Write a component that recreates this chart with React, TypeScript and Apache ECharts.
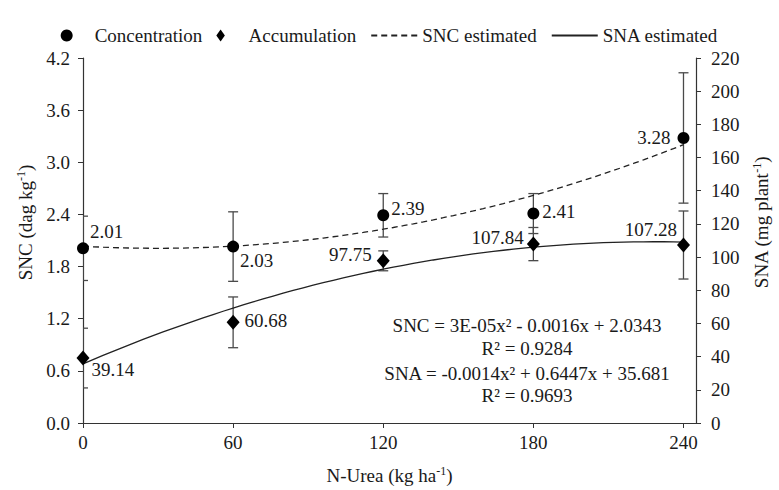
import React, { useEffect, useRef } from "react";
import * as echarts from "echarts";

const nUrea = [0, 60, 120, 180, 240];
const sncValues = [2.01, 2.03, 2.39, 2.41, 3.28];
const sncErrors = [0.37, 0.4, 0.25, 0.23, 0.75];
const snaValues = [39.14, 60.68, 97.75, 107.84, 107.28];
const snaErrors = [18, 15.3, 6, 10, 20.5];
const xTickLabels = ["0", "60", "120", "180", "240"];
const legendNames = ["Concentration", "Accumulation", "SNC estimated", "SNA estimated"];
const equationLines = [
  "SNC = 3E-05x\u00b2 - 0.0016x + 2.0343",
  "R\u00b2 = 0.9284",
  "SNA = -0.0014x\u00b2 + 0.6447x + 35.681",
  "R\u00b2 = 0.9693",
];

// label placement (layout only)
const sncLabelLayout: [string, number, number][] = [
  ["right", 1, -17],
  ["right", 1, 14],
  ["right", 2, -7],
  ["right", 3, -2],
  ["left", -7, 0],
];
const snaLabelLayout: [string, number, number][] = [
  ["right", 2, 11],
  ["right", 5, -2],
  ["left", -5, -6],
  ["left", -3, -7],
  ["left", 0, -16],
];

const FONT = "'Liberation Serif', 'Times New Roman', serif";
const INK = "#1a1a1a";
const FS = 19;

function quadFit(xs: number[], ys: number[]) {
  let s0 = 0, s1 = 0, s2 = 0, s3 = 0, s4 = 0, t0 = 0, t1 = 0, t2 = 0;
  xs.forEach((x, i) => {
    const y = ys[i];
    s0 += 1; s1 += x; s2 += x * x; s3 += x * x * x; s4 += x * x * x * x;
    t0 += y; t1 += x * y; t2 += x * x * y;
  });
  const M = [
    [s4, s3, s2, t2],
    [s3, s2, s1, t1],
    [s2, s1, s0, t0],
  ];
  for (let c = 0; c < 3; c++) {
    for (let r = c + 1; r < 3; r++) {
      const f = M[r][c] / M[c][c];
      for (let k = c; k < 4; k++) M[r][k] -= f * M[c][k];
    }
  }
  const sol = [0, 0, 0];
  for (let r = 2; r >= 0; r--) {
    let v = M[r][3];
    for (let k = r + 1; k < 3; k++) v -= M[r][k] * sol[k];
    sol[r] = v / M[r][r];
  }
  return (x: number) => sol[0] * x * x + sol[1] * x + sol[2];
}

function curve(values: number[]) {
  const f = quadFit(nUrea, values);
  const pts: number[][] = [];
  const x0 = nUrea[0];
  const x1 = nUrea[nUrea.length - 1];
  for (let x = x0; x <= x1 + 1e-9; x += 4) pts.push([x, f(x)]);
  return pts;
}

function errorBars(values: number[], errors: number[], yAxisIndex: number) {
  return {
    type: "custom",
    yAxisIndex,
    clip: true,
    silent: true,
    z: 1,
    data: nUrea.map((x, i) => [x, values[i] - errors[i], values[i] + errors[i]]),
    encode: { x: 0, y: [1, 2] },
    renderItem: (params: any, api: any) => {
      const x = api.value(0);
      const lo = api.coord([x, api.value(1)]);
      const hi = api.coord([x, api.value(2)]);
      const hw = 5;
      const st = { stroke: "#4a4a4a", lineWidth: 1.3 };
      return {
        type: "group",
        children: [
          { type: "line", shape: { x1: lo[0], y1: lo[1], x2: hi[0], y2: hi[1] }, style: st },
          { type: "line", shape: { x1: lo[0] - hw, y1: lo[1], x2: lo[0] + hw, y2: lo[1] }, style: st },
          { type: "line", shape: { x1: hi[0] - hw, y1: hi[1], x2: hi[0] + hw, y2: hi[1] }, style: st },
        ],
      };
    },
  };
}

function pointData(values: number[], layout: [string, number, number][]) {
  return nUrea.map((x, i) => ({
    value: [x, values[i]],
    label: {
      show: true,
      position: layout[i][0],
      distance: 0,
      offset: [layout[i][1], layout[i][2]],
      formatter: values[i].toFixed(2),
    },
  }));
}

const richName = {
  a: { fontFamily: FONT, fontSize: FS, color: INK, lineHeight: 21 },
  s: { fontFamily: FONT, fontSize: 12, color: INK, lineHeight: 21, verticalAlign: "top" },
};

export default function App() {
  const ref = useRef<HTMLDivElement>(null);
  useEffect(() => {
    if (!ref.current) return;
    const chart = echarts.init(ref.current, undefined, { renderer: "svg" });
    const axisLine = { show: true, lineStyle: { color: "#333", width: 1.2 } };
    const axisLabelStyle = { color: INK, fontFamily: FONT, fontSize: FS };
    const option: any = {
      animation: false,
      backgroundColor: "#ffffff",
      textStyle: { fontFamily: FONT },
      grid: { left: 83, right: 76, top: 58, bottom: 58, containLabel: false },
      legend: {
        data: [
          { name: legendNames[0] },
          { name: legendNames[1], icon: "path://M5,0 L10,7 L5,14 L0,7 Z" },
          { name: legendNames[2], itemStyle: { color: "rgba(0,0,0,0)", borderWidth: 0, opacity: 0 } },
          { name: legendNames[3], itemStyle: { color: "rgba(0,0,0,0)", borderWidth: 0, opacity: 0 } },
        ],
        top: 21,
        left: "center",
        itemWidth: 46,
        itemHeight: 12,
        itemGap: 14,
        textStyle: { color: INK, fontFamily: FONT, fontSize: FS },
        selectedMode: false,
      },
      xAxis: {
        type: "value",
        min: 0,
        max: 245,
        interval: 60,
        axisLine,
        axisTick: { show: true, length: 5, lineStyle: { color: "#333" } },
        splitLine: { show: false },
        axisLabel: {
          ...axisLabelStyle,
          margin: 10,
          showMaxLabel: false,
          formatter: (v: number) => {
            const idx = nUrea.indexOf(v);
            return idx >= 0 ? xTickLabels[idx] : "";
          },
        },
        name: "{a|N-Urea (kg ha}{s|-1}{a|)}",
        nameLocation: "middle",
        nameGap: 42,
        nameTextStyle: { rich: richName },
      },
      yAxis: [
        {
          type: "value",
          min: 0,
          max: 4.2,
          interval: 0.6,
          axisLine,
          axisTick: { show: true, length: 5, lineStyle: { color: "#333" } },
          splitLine: { show: false },
          axisLabel: { ...axisLabelStyle, margin: 13, formatter: (v: number) => v.toFixed(1) },
          name: "{a|SNC (dag kg}{s|-1}{a|)}",
          nameLocation: "middle",
          nameGap: 46,
          nameTextStyle: { rich: richName, padding: [0, 0, 0, 36] },
        },
        {
          type: "value",
          min: 0,
          max: 220,
          interval: 20,
          position: "right",
          axisLine,
          axisTick: { show: true, length: 5, lineStyle: { color: "#333" } },
          splitLine: { show: false },
          axisLabel: { ...axisLabelStyle, margin: 15 },
          name: "{a|SNA (mg plant}{s|-1}{a|)}",
          nameLocation: "middle",
          nameGap: 55,
          nameRotate: 90,
          nameTextStyle: { rich: richName, padding: [0, 0, 0, 36] },
        },
      ],
      series: [
        errorBars(sncValues, sncErrors, 0),
        errorBars(snaValues, snaErrors, 1),
        {
          name: legendNames[2],
          type: "line",
          yAxisIndex: 0,
          data: curve(sncValues),
          showSymbol: false,
          symbol: "none",
          z: 2,
          lineStyle: { color: "#222", width: 1.3, type: [6, 4] },
          itemStyle: { color: "#222" },
        },
        {
          name: legendNames[3],
          type: "line",
          yAxisIndex: 1,
          data: curve(snaValues),
          showSymbol: false,
          symbol: "none",
          z: 2,
          lineStyle: { color: "#222", width: 1.3 },
          itemStyle: { color: "#222" },
        },
        {
          name: legendNames[0],
          type: "scatter",
          yAxisIndex: 0,
          symbol: "circle",
          symbolSize: 12,
          z: 3,
          itemStyle: { color: "#000", opacity: 1 },
          label: { color: INK, fontFamily: FONT, fontSize: FS },
          data: pointData(sncValues, sncLabelLayout),
        },
        {
          name: legendNames[1],
          type: "scatter",
          yAxisIndex: 1,
          symbol: "diamond",
          symbolSize: [13, 15],
          z: 3,
          itemStyle: { color: "#000", opacity: 1 },
          label: { color: INK, fontFamily: FONT, fontSize: FS },
          data: pointData(snaValues, snaLabelLayout),
        },
      ],
      graphic: equationLines.map((t, i) => ({
        type: "text",
        x: 527,
        y: [325, 348, 373, 395][i],
        silent: true,
        style: {
          text: t,
          fill: INK,
          font: `${FS}px ${FONT}`,
          align: "center",
          verticalAlign: "middle",
        },
      })),
    };
    chart.setOption(option);
    return () => chart.dispose();
  }, []);
  return (
    <div
      ref={ref}
      style={{ position: "fixed", left: 0, top: 0, width: 779, height: 490, background: "#fff" }}
    />
  );
}
